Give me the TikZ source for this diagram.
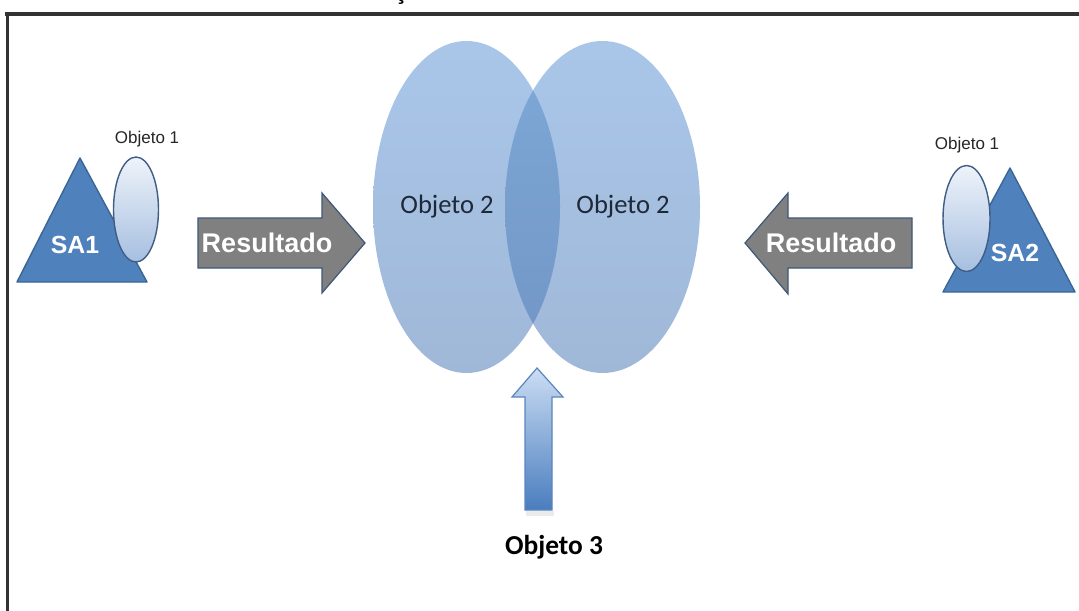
\documentclass[tikz,border=0pt]{standalone}
\usepackage{fontspec}
\setmainfont{Liberation Sans}
\newfontfamily\calibri{Carlito}

\definecolor{framegray}{HTML}{333333}
\definecolor{triblue}{HTML}{4F81BD}
\definecolor{triedge}{HTML}{3B6694}
\definecolor{smalltop}{HTML}{EEF3FA}
\definecolor{smallbot}{HTML}{A6BFE0}
\definecolor{smalledge}{HTML}{3F5D85}
\definecolor{bigtop}{HTML}{A9C6E9}
\definecolor{bigbot}{HTML}{A0B8D8}
\definecolor{lenstop}{HTML}{7EA9D8}
\definecolor{lensbot}{HTML}{7195C4}
\definecolor{arrowgray}{HTML}{808080}
\definecolor{arrowedge}{HTML}{3E5878}
\definecolor{uptop}{HTML}{CBDDF3}
\definecolor{upbot}{HTML}{4A7DBE}
\definecolor{upedge}{HTML}{5A86BF}
\definecolor{labeldark}{HTML}{1E2937}

\begin{document}
\begin{tikzpicture}[x=0.5pt,y=-0.5pt,
  framerule/.style={line width=1.6pt, draw=framegray},
  tri/.style={fill=triblue, draw=triedge, line width=0.7pt, line join=round},
  smallobj/.style={top color=smalltop, bottom color=smallbot, draw=smalledge, line width=0.7pt},
  bigobj/.style={top color=bigtop, bottom color=bigbot},
  lens/.style={top color=lenstop, bottom color=lensbot},
  grayarrow/.style={fill=arrowgray, draw=arrowedge, line width=0.6pt, line join=miter},
  uparrow/.style={top color=uptop, bottom color=upbot, draw=upedge, line width=0.6pt},
  txt/.style={inner sep=0pt, outer sep=0pt},
  smalllabel/.style={txt, font=\fontsize{8.5}{10}\selectfont, text=black!85},
  salabel/.style={txt, font=\fontsize{12.4}{14}\selectfont\bfseries, text=white},
  reslabel/.style={txt, font=\fontsize{13.5}{16}\selectfont\bfseries, text=white},
  objlabel/.style={txt, font=\calibri\fontsize{13.3}{16}\selectfont, text=labeldark},
  obj3label/.style={txt, font=\calibri\fontsize{13.7}{16}\selectfont\bfseries, text=black}]

\useasboundingbox (0,0) rectangle (1079,610);
\fill[white] (0,0) rectangle (1079,610);

% caption fragment above the frame
\node[txt, anchor=base, font=\fontsize{12}{14}\selectfont\bfseries] (capfrag) at (401,0) {ç};

% frame
\draw[framerule] (5,14) -- (1090,14);
\draw[framerule] (7.5,13.2) -- (7.5,620);

% ---------- central overlapping objects ----------
\coordinate (cL) at (466.5,207);
\coordinate (cR) at (602.5,207);
\path[bigobj] (cL) ellipse [x radius=46.75pt, y radius=83pt];
\path[bigobj] (cR) ellipse [x radius=48.75pt, y radius=83pt];
\begin{scope}
  \clip (cL) ellipse [x radius=46.75pt, y radius=83pt];
  \path[lens] (cR) ellipse [x radius=48.75pt, y radius=83pt];
\end{scope}
\node[objlabel] (o2L) at (447,207) {Objeto 2};
\node[objlabel] (o2R) at (623,207) {Objeto 2};

% ---------- left system SA1 ----------
\coordinate (t1a) at (80,158);
\coordinate (t1b) at (17,282);
\coordinate (t1c) at (147,282);
\draw[tri] (t1a) -- (t1b) -- (t1c) -- cycle;
\node[salabel] (sa1) at (75,245) {SA1};
\draw[smallobj] (136,209.5) ellipse [x radius=11.25pt, y radius=26.25pt];
\node[smalllabel] (o1L) at (147,139) {Objeto 1};

% ---------- right system SA2 ----------
\coordinate (t2a) at (1010,168);
\coordinate (t2b) at (943,292);
\coordinate (t2c) at (1075,292);
\draw[tri] (t2a) -- (t2b) -- (t2c) -- cycle;
\node[salabel] (sa2) at (1015,253) {SA2};
\draw[smallobj] (966.5,218.5) ellipse [x radius=11.75pt, y radius=26.5pt];
\node[smalllabel] (o1R) at (967,145) {Objeto 1};

% ---------- result arrows ----------
\draw[grayarrow] (198,218) -- (322,218) -- (322,193) -- (365,243)
  -- (322,293) -- (322,268) -- (198,268) -- cycle;
\node[reslabel] (resL) at (267,243) {Resultado};

\draw[grayarrow] (912,218) -- (788,218) -- (788,193) -- (745,243)
  -- (788,294) -- (788,268) -- (912,268) -- cycle;
\node[reslabel] (resR) at (831,243) {Resultado};

% ---------- object 3 input arrow ----------
\fill[black, opacity=0.08] (526,511) rectangle (554,516);
\draw[uparrow] (525,510) -- (525,397) -- (512,397) -- (537,368)
  -- (563,397) -- (552,397) -- (552,510) -- cycle;
\node[obj3label] (o3) at (554,547) {Objeto 3};

\end{tikzpicture}
\end{document}
